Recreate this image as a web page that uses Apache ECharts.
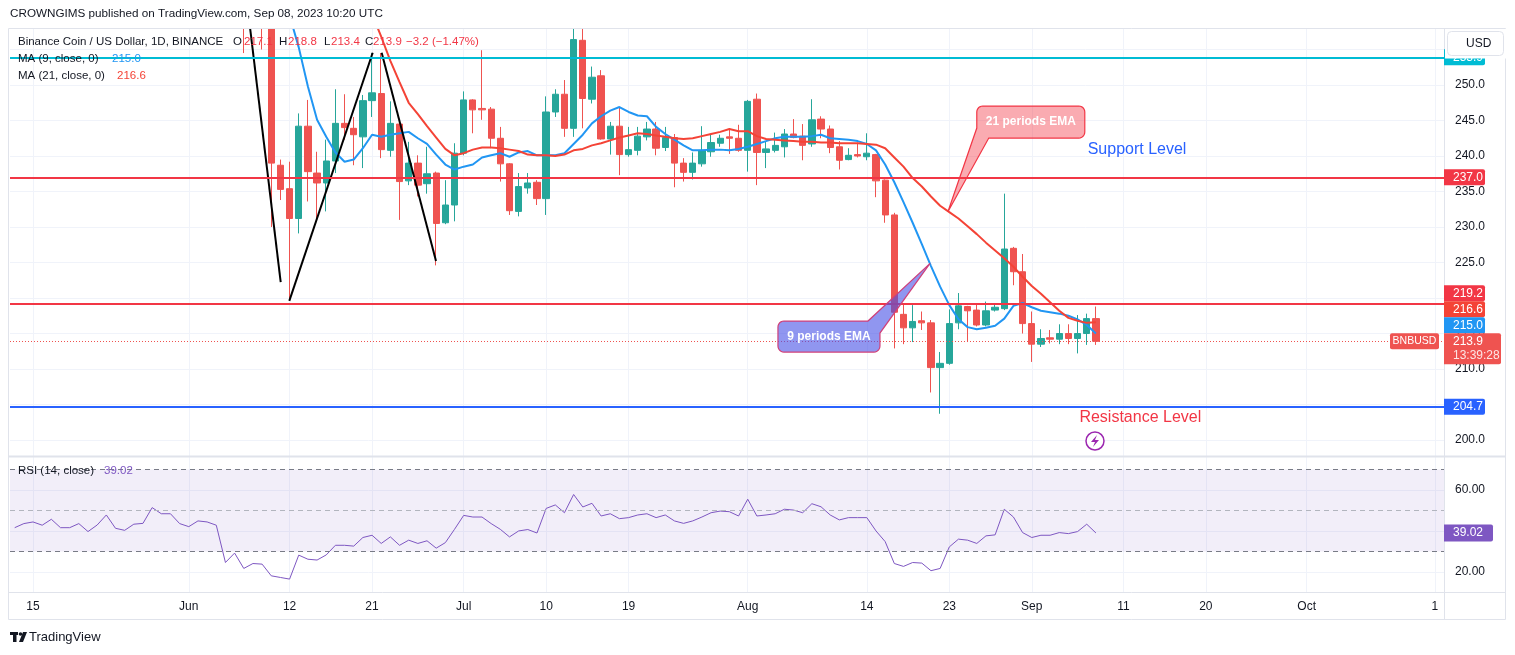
<!DOCTYPE html>
<html>
<head>
<meta charset="utf-8">
<title>BNBUSD 1D</title>
<script src="https://cdn.jsdelivr.net/npm/echarts@6.0.0/dist/echarts.min.js"></script>
<style>
  html, body { margin: 0; padding: 0; background: #ffffff; }
  #chart { width: 1515px; height: 655px; }
</style>
</head>
<body>
<div id="chart"></div>
<script>
// x axis counts days from 13 May 2023
var DAY0 = Date.UTC(2023, 4, 13);
function dayOf(md) {
  var p = md.split('-');
  return Math.round((Date.UTC(2023, +p[0] - 1, +p[1]) - DAY0) / 864e5);
}

// daily candles: date, open, close, low, high
var candles = [
  ['06-07', 263.5, 259.6, 254.5, 265.0], ['06-08', 259.6, 260.4, 258.6, 263.0],
  ['06-09', 260.4, 260.0, 255.0, 262.5], ['06-10', 260.0, 239.0, 230.0, 261.0],
  ['06-11', 238.7, 235.3, 233.8, 239.5], ['06-12', 235.4, 231.2, 219.8, 239.2],
  ['06-13', 231.2, 244.2, 229.1, 246.0], ['06-14', 244.2, 237.8, 233.6, 247.9],
  ['06-15', 237.6, 236.2, 231.0, 240.6], ['06-16', 236.2, 239.3, 232.2, 242.3],
  ['06-17', 239.3, 244.6, 237.6, 249.4], ['06-18', 244.6, 244.0, 242.3, 248.7],
  ['06-19', 243.9, 243.0, 238.7, 245.5], ['06-20', 242.7, 247.8, 238.3, 248.6],
  ['06-21', 247.8, 248.9, 245.5, 254.5], ['06-22', 248.8, 240.9, 239.7, 254.5],
  ['06-23', 240.8, 244.6, 239.9, 247.7], ['06-24', 244.5, 236.4, 231.0, 245.1],
  ['06-25', 236.5, 239.0, 235.9, 242.0], ['06-26', 239.0, 235.9, 234.3, 240.1],
  ['06-27', 236.1, 237.5, 234.7, 241.3], ['06-28', 237.6, 230.5, 224.6, 237.8],
  ['06-29', 230.6, 233.1, 230.4, 236.6], ['06-30', 233.1, 240.4, 230.8, 241.8],
  ['07-01', 240.4, 247.9, 240.1, 249.1], ['07-02', 247.9, 246.5, 243.2, 248.0],
  ['07-03', 246.7, 246.5, 245.1, 254.9], ['07-04', 246.6, 242.5, 241.1, 246.9],
  ['07-05', 242.5, 238.9, 236.4, 244.1], ['07-06', 238.9, 232.3, 231.7, 239.0],
  ['07-07', 232.2, 235.7, 231.5, 237.6], ['07-08', 235.5, 236.2, 234.7, 237.6],
  ['07-09', 236.3, 234.0, 233.1, 236.6], ['07-10', 234.0, 246.2, 231.7, 248.4],
  ['07-11', 246.2, 248.7, 245.5, 249.4], ['07-12', 248.7, 243.9, 242.7, 250.7],
  ['07-13', 243.9, 256.4, 242.7, 258.0], ['07-14', 256.3, 248.1, 243.9, 258.3],
  ['07-15', 248.0, 251.1, 247.4, 252.6], ['07-16', 251.3, 242.4, 242.3, 252.1],
  ['07-17', 242.4, 244.2, 240.2, 244.8], ['07-18', 244.2, 240.2, 237.3, 246.9],
  ['07-19', 240.2, 240.9, 239.9, 244.1], ['07-20', 240.8, 242.8, 240.1, 244.1],
  ['07-21', 242.7, 243.8, 242.2, 244.8], ['07-22', 243.8, 241.1, 240.1, 244.8],
  ['07-23', 241.2, 242.6, 240.7, 244.1], ['07-24', 242.6, 239.0, 235.6, 243.1],
  ['07-25', 239.0, 237.7, 236.4, 239.7], ['07-26', 237.7, 239.0, 236.7, 240.5],
  ['07-27', 238.9, 240.8, 238.5, 244.2], ['07-28', 240.6, 241.9, 239.9, 243.1],
  ['07-29', 241.8, 242.5, 241.3, 243.0], ['07-30', 242.7, 242.5, 240.3, 243.9],
  ['07-31', 242.5, 240.8, 240.6, 244.4], ['08-01', 240.8, 247.7, 237.8, 247.9],
  ['08-02', 248.0, 240.5, 235.9, 248.8], ['08-03', 240.5, 241.0, 238.3, 242.0],
  ['08-04', 240.8, 241.5, 240.5, 243.3], ['08-05', 241.3, 243.1, 239.8, 243.8],
  ['08-06', 243.1, 242.6, 242.5, 245.2], ['08-07', 242.8, 241.5, 239.4, 244.5],
  ['08-08', 241.7, 245.1, 241.3, 248.0], ['08-09', 245.2, 243.8, 242.5, 245.6],
  ['08-10', 243.8, 241.2, 240.4, 244.3], ['08-11', 241.3, 239.4, 238.1, 242.1],
  ['08-12', 239.5, 240.1, 239.4, 241.1], ['08-13', 240.2, 240.0, 239.8, 241.9],
  ['08-14', 239.9, 240.4, 239.4, 243.2], ['08-15', 240.2, 236.5, 234.2, 240.3],
  ['08-16', 236.6, 231.7, 230.6, 236.7], ['08-17', 231.7, 218.0, 212.9, 232.0],
  ['08-18', 217.7, 215.8, 213.5, 219.2], ['08-19', 215.8, 216.7, 213.8, 219.0],
  ['08-20', 216.8, 216.5, 215.5, 218.1], ['08-21', 216.5, 210.2, 206.7, 216.9],
  ['08-22', 210.2, 210.8, 203.7, 212.4], ['08-23', 210.8, 216.4, 210.6, 218.4],
  ['08-24', 216.5, 218.9, 215.6, 220.7], ['08-25', 218.8, 218.2, 213.8, 218.9],
  ['08-26', 218.3, 216.2, 216.0, 219.2], ['08-27', 216.2, 218.2, 216.0, 219.5],
  ['08-28', 218.3, 218.7, 218.1, 219.3], ['08-29', 218.5, 226.9, 218.3, 234.7],
  ['08-30', 227.0, 223.7, 221.8, 227.2], ['08-31', 223.7, 216.4, 215.0, 226.2],
  ['09-01', 216.4, 213.5, 211.0, 218.1], ['09-02', 213.5, 214.3, 213.1, 215.6],
  ['09-03', 214.4, 214.2, 213.6, 215.5], ['09-04', 214.2, 215.0, 213.5, 216.3],
  ['09-05', 215.0, 214.3, 213.5, 216.3], ['09-06', 214.3, 215.0, 212.2, 217.6],
  ['09-07', 215.0, 217.1, 213.4, 217.8], ['09-08', 217.1, 213.9, 213.4, 218.8]
];

// MA (9) - blue, one value per day from ma9Start
var ma9Start = '06-11';
var ma9 = [
  264.5, 259.8, 255.3, 249.8, 245.1, 242.7, 240.5, 239.2, 239.5, 241.1,
  243.0, 242.7, 243.0, 243.2, 243.4, 242.5, 241.7, 240.2, 238.8, 238.1,
  238.5, 238.8, 239.8, 240.1, 240.4, 239.9, 240.5, 240.7, 240.1, 240.1,
  240.1, 240.4, 241.7, 243.0, 244.6, 245.6, 246.4, 246.9, 246.2, 245.7,
  245.6, 244.1, 243.1, 242.3, 241.5, 240.8, 240.8, 240.9, 240.9, 240.8,
  241.0, 241.3, 241.7, 242.1, 242.5, 242.7, 242.7, 242.7, 242.8, 243.0,
  242.5, 242.4, 242.3, 242.1, 241.7, 240.8, 238.8, 236.3, 233.5, 230.6,
  227.6, 224.5, 221.6, 219.0, 217.0, 215.9, 215.6, 215.8, 216.1, 217.1,
  218.9, 219.3, 218.7, 218.2, 218.0, 217.8, 217.5, 217.0, 216.2, 215.0
];

// MA (21) - red, one value per day from ma21Start
var ma21Start = '06-20';
var ma21 = [
  263.5, 260.0, 256.8, 253.4, 250.4, 247.5, 245.9, 244.2, 242.6, 241.0,
  240.1, 240.4, 240.9, 241.2, 241.2, 241.1, 240.9, 240.7, 240.2, 240.1,
  240.1, 240.0, 240.2, 240.8, 241.0, 241.5, 241.8, 242.2, 242.6, 242.9,
  243.2, 243.1, 242.9, 242.7, 242.5, 242.4, 242.5, 242.8, 243.1, 243.4,
  243.8, 243.5, 243.5, 242.8, 242.4, 242.3, 242.2, 242.1, 242.0, 242.0,
  241.9, 241.9, 241.8, 241.8, 241.8, 241.7, 241.6, 241.1, 239.8, 238.5,
  236.9, 235.7, 234.3, 233.0, 232.1, 231.2, 230.1, 229.0, 227.8, 226.7,
  225.6, 224.4, 223.0, 221.7, 220.6, 219.4, 218.2, 217.2, 216.8, 216.5,
  216.6
];

// RSI (14), one value per day from rsiStart
var rsiStart = '05-13';
var rsi = [
  41.6, 43.6, 44.4, 42.8, 45.7, 41.6, 41.6, 43.6, 39.7, 42.9, 47.8, 41.3,
  40.3, 43.3, 43.7, 51.4, 48.4, 48.4, 43.6, 42.1, 44.9, 44.4, 42.8,
  24.6, 29.2, 21.7, 24.1, 23.8, 18.1, 17.3, 16.5, 28.2, 26.2, 25.8, 28.3,
  33.0, 33.0, 32.6, 36.8, 37.9, 33.9,
  37.1, 33.0, 35.5, 33.9, 35.2, 31.6, 34.3, 40.8, 47.6, 46.8, 46.8, 43.6,
  40.8, 37.1, 40.0, 40.7, 39.0, 51.0, 52.7, 48.9,
  57.8, 51.7, 53.5, 47.3, 48.4, 46.0, 46.5, 47.8, 48.4, 46.5, 47.8, 44.9,
  43.7, 44.9, 46.8, 48.9, 49.7, 49.4, 47.3,
  55.5, 47.3, 47.8, 48.4, 50.6, 50.2, 48.9, 53.3, 51.8, 47.8, 45.4, 46.5,
  46.5, 46.5, 40.0, 34.8, 24.1, 22.7, 24.6, 24.3,
  20.6, 21.7, 32.2, 36.0, 35.5, 33.9, 37.6, 38.1, 50.6, 46.8, 39.2, 36.8,
  37.9, 37.9, 39.2, 38.7, 39.7, 43.3, 39.02
];

// horizontal drawings
var levels = [
  { value: 253.9, color: '#00BCD4' },
  { value: 237.0, color: '#F23645' },
  { value: 219.2, color: '#F23645' },
  { value: 204.7, color: '#2962FF' }
];

// hand-drawn black pattern lines, [day, price] end points
var zigzag = [
  [[25.3, 262.2], [29.03, 222.25]],
  [[29.97, 219.6], [39.07, 254.55]],
  [[40.05, 254.55], [45.98, 225.2]]
];

// axis ticks
var priceTicks = [200, 205, 210, 215, 220, 225, 230, 235, 240, 245, 250, 255];
var priceLabels = [200, 205, 210, 215, 220, 225, 230, 235, 240, 245, 250];
var rsiTicks = [20, 40, 60];
var rsiLabels = [20, 60];
var rsiBands = [30, 50, 70];
var timeTickDates = ['05-15', '06-01', '06-12', '06-21', '07-01', '07-10', '07-19',
  '08-01', '08-14', '08-23', '09-01', '09-11', '09-20', '10-01', '10-15'];
var timeTickText = ['15', 'Jun', '12', '21', 'Jul', '10', '19',
  'Aug', '14', '23', 'Sep', '11', '20', 'Oct', '1'];

var FONT = '"Liberation Sans", Arial, sans-serif';
var X_MIN = -0.513, X_MAX = 155.99;
var timeTicks = timeTickDates.map(dayOf);

function daily(start, arr) {
  var d0 = dayOf(start);
  return arr.map(function (v, i) { return [d0 + i, v]; });
}

var last = candles[candles.length - 1];
var prev = candles[candles.length - 2];
var lastClose = last[2];

var gridLine = { show: true, lineStyle: { color: '#F0F3FA', width: 1 } };

var option = {
  animation: false,
  backgroundColor: '#ffffff',
  textStyle: { fontFamily: FONT },
  grid: [
    { left: 10, right: 71, top: 28, height: 428 },
    { left: 10, right: 71, top: 457, height: 135 }
  ],
  xAxis: [
    {
      gridIndex: 0, type: 'value', min: X_MIN, max: X_MAX,
      axisLine: { show: false }, axisTick: { show: false, customValues: timeTicks },
      axisLabel: { show: false }, splitLine: gridLine
    },
    {
      gridIndex: 1, type: 'value', min: X_MIN, max: X_MAX,
      axisLine: { show: false }, axisTick: { show: false, customValues: timeTicks },
      axisLabel: {
        customValues: timeTicks, color: '#131722', fontSize: 12, margin: 9,
        formatter: function (v) {
          var i = timeTicks.indexOf(v);
          return i >= 0 ? timeTickText[i] : '';
        }
      },
      splitLine: gridLine
    }
  ],
  yAxis: [
    {
      gridIndex: 0, type: 'value', position: 'right', min: 197.75, max: 258.03,
      axisLine: { show: false }, axisTick: { show: false, customValues: priceTicks },
      axisLabel: {
        customValues: priceLabels, color: '#131722', fontSize: 12, margin: 11,
        formatter: function (v) { return v.toFixed(1); }
      },
      splitLine: gridLine
    },
    {
      gridIndex: 1, type: 'value', position: 'right', min: 10.2, max: 76.1,
      axisLine: { show: false }, axisTick: { show: false, customValues: rsiTicks },
      axisLabel: {
        customValues: rsiLabels, color: '#131722', fontSize: 12, margin: 11,
        formatter: function (v) { return v.toFixed(2); }
      },
      splitLine: gridLine
    }
  ],
  series: [
    {
      type: 'candlestick', xAxisIndex: 0, yAxisIndex: 0, clip: true,
      data: candles.map(function (c) { return [dayOf(c[0]), c[1], c[2], c[3], c[4]]; }),
      encode: { x: 0, y: [1, 2, 3, 4] },
      barWidth: 6.8,
      itemStyle: {
        color: '#26A69A', color0: '#EF5350',
        borderColor: '#26A69A', borderColor0: '#EF5350', borderWidth: 1
      },
      markLine: {
        silent: true, symbol: ['none', 'none'], label: { show: false },
        data: levels.map(function (l) {
          return { yAxis: l.value, lineStyle: { color: l.color, width: 2, type: 'solid' } };
        }).concat([
          { yAxis: lastClose, lineStyle: { color: '#EF5350', width: 1, type: [1, 2] } }
        ])
      }
    },
    {
      type: 'line', name: 'MA9', xAxisIndex: 0, yAxisIndex: 0, data: daily(ma9Start, ma9),
      symbol: 'none', clip: true, lineStyle: { color: '#2196F3', width: 2 }, z: 3
    },
    {
      type: 'line', name: 'MA21', xAxisIndex: 0, yAxisIndex: 0, data: daily(ma21Start, ma21),
      symbol: 'none', clip: true, lineStyle: { color: '#F44336', width: 2 }, z: 3
    }
  ].concat(zigzag.map(function (seg) {
    return {
      type: 'line', xAxisIndex: 0, yAxisIndex: 0, data: seg, symbol: 'none', clip: true,
      lineStyle: { color: '#000000', width: 2 }, z: 4
    };
  })).concat([
    {
      type: 'line', name: 'RSI', xAxisIndex: 1, yAxisIndex: 1, data: daily(rsiStart, rsi),
      symbol: 'none', clip: true, lineStyle: { color: '#7E57C2', width: 1 },
      markArea: {
        silent: true, itemStyle: { color: 'rgba(126,87,194,0.1)' },
        data: [[{ yAxis: rsiBands[0] }, { yAxis: rsiBands[2] }]]
      },
      markLine: {
        silent: true, symbol: ['none', 'none'], label: { show: false },
        data: rsiBands.map(function (v, i) {
          return { yAxis: v, lineStyle: { color: i === 1 ? '#B2B5BE' : '#787B86', width: 1, type: [5, 4] } };
        })
      }
    }
  ])
};

var chart = echarts.init(document.getElementById('chart'));
chart.setOption(option);

// ---------- overlay: frame, legends, price tags, annotations ----------
function toPx(d, p) { return chart.convertToPixel({ xAxisIndex: 0, yAxisIndex: 0 }, [d, p]); }
function toRsiPx(d, v) { return chart.convertToPixel({ xAxisIndex: 1, yAxisIndex: 1 }, [d, v]); }
function txt(x, y, s, color, size, extra) {
  var st = {
    x: x, y: y, text: s, fill: color, font: (size || 12) + 'px ' + FONT,
    align: 'left', textAlign: 'left', verticalAlign: 'middle', textVerticalAlign: 'middle'
  };
  if (extra) for (var k in extra) st[k] = extra[k];
  return { type: 'text', style: st };
}
function fmt(v, n) { return (v < 0 ? '\u2212' : '') + Math.abs(v).toFixed(n); }

var axisX = toPx(X_MAX, 200)[0];
var paneTop = toPx(0, 258.03)[1];
var paneSplit = toPx(0, 197.75)[1] + 0.5;
var timeTop = toRsiPx(0, 10.2)[1];
var els = [];

// candles that run past the top of the pane are masked here
els.push({ type: 'rect', shape: { x: 0, y: 0, width: 1515, height: paneTop }, style: { fill: '#ffffff' } });

// frame and separators
els.push({ type: 'rect', shape: { x: 8.5, y: 28.5, width: 1497, height: 591 }, style: { fill: 'none', stroke: '#E0E3EB', lineWidth: 1 } });
els.push({ type: 'line', shape: { x1: 8, y1: paneSplit, x2: 1506, y2: paneSplit }, style: { stroke: '#E0E3EB', lineWidth: 2 } });
els.push({ type: 'line', shape: { x1: 8, y1: timeTop + 0.5, x2: 1506, y2: timeTop + 0.5 }, style: { stroke: '#E0E3EB', lineWidth: 1 } });
els.push({ type: 'line', shape: { x1: axisX + 0.5, y1: 28, x2: axisX + 0.5, y2: 620 }, style: { stroke: '#E0E3EB', lineWidth: 1 } });

// header and legends
var LEG = 11.5;
els.push(txt(10, 14, 'CROWNGIMS published on TradingView.com, Sep 08, 2023 10:20 UTC', '#131722', 11.7));
els.push(txt(18, 42, 'Binance Coin / US Dollar, 1D, BINANCE', '#131722', LEG));
var ohlcRed = '#F23645';
els.push(txt(233, 42, 'O', '#131722', LEG)); els.push(txt(244, 42, last[1].toFixed(1), ohlcRed, LEG));
els.push(txt(279, 42, 'H', '#131722', LEG)); els.push(txt(288, 42, last[4].toFixed(1), ohlcRed, LEG));
els.push(txt(324, 42, 'L', '#131722', LEG)); els.push(txt(331, 42, last[3].toFixed(1), ohlcRed, LEG));
els.push(txt(365, 42, 'C', '#131722', LEG)); els.push(txt(373, 42, last[2].toFixed(1), ohlcRed, LEG));
var chg = last[2] - prev[2];
els.push(txt(406, 42, fmt(chg, 1) + ' (' + fmt(chg / prev[2] * 100, 2) + '%)', ohlcRed, LEG));
els.push(txt(18, 59, 'MA (9, close, 0)', '#131722', LEG));
els.push(txt(112, 59, ma9[ma9.length - 1].toFixed(1), '#2196F3', LEG));
els.push(txt(18, 76, 'MA (21, close, 0)', '#131722', LEG));
els.push(txt(117, 76, ma21[ma21.length - 1].toFixed(1), '#F44336', LEG));
els.push(txt(18, 471, 'RSI (14, close)', '#131722', LEG));
els.push(txt(104, 471, rsi[rsi.length - 1].toFixed(2), '#7E57C2', LEG));

// callouts: rounded box with a pointer, built as one polygon
function arc(cx, cy, r, a0, a1) {
  var pts = [];
  for (var i = 0; i <= 6; i++) {
    var a = (a0 + (a1 - a0) * i / 6) * Math.PI / 180;
    pts.push([cx + r * Math.cos(a), cy + r * Math.sin(a)]);
  }
  return pts;
}
function callout(box, w, h, tip, fill, stroke, label, corner) {
  var b = toPx(box[0], box[1]), t = toPx(tip[0], tip[1]);
  var x = b[0], y = b[1], r = 6, pts;
  if (corner === 'bottomLeft') {
    pts = arc(x + r, y + r, r, 180, 270)
      .concat(arc(x + w - r, y + r, r, 270, 360))
      .concat(arc(x + w - r, y + h - r, r, 0, 90))
      .concat([[x + 12, y + h], t, [x, y + h - 10]]);
  } else {
    pts = arc(x + r, y + r, r, 180, 270)
      .concat([[x + w - 12, y], t, [x + w, y + 12]])
      .concat(arc(x + w - r, y + h - r, r, 0, 90))
      .concat(arc(x + r, y + h - r, r, 90, 180));
  }
  els.push({ type: 'polygon', shape: { points: pts }, style: { fill: fill, stroke: stroke, lineWidth: 1.2 } });
  els.push(txt(x + w / 2, y + h / 2, label, '#ffffff', 12, { align: 'center', textAlign: 'center', font: 'bold 12px ' + FONT }));
}
callout([105.0, 247.04], 108, 32, [101.85, 232.15], 'rgba(242,54,69,0.42)', '#F23645', '21 periods EMA', 'bottomLeft');
callout([83.3, 216.76], 102, 31, [99.9, 224.88], 'rgba(70,80,230,0.6)', '#D0407A', '9 periods EMA', 'topRight');

// level captions
var sp = toPx(117.1, 240.85), rp = toPx(116.2, 203.1);
els.push(txt(sp[0], sp[1], 'Support Level', '#2962FF', 16));
els.push(txt(rp[0], rp[1], 'Resistance Level', '#F23645', 16));

// lightning icon
var ic = toPx(117.9, 199.86);
els.push({ type: 'circle', shape: { cx: ic[0], cy: ic[1], r: 9 }, style: { fill: '#ffffff', stroke: '#9C27B0', lineWidth: 1.5 } });
els.push({ type: 'polygon', shape: { points: [[ic[0] + 2, ic[1] - 6], [ic[0] - 4, ic[1] + 1], [ic[0], ic[1] + 1], [ic[0] - 2, ic[1] + 6], [ic[0] + 4, ic[1] - 1], [ic[0], ic[1] - 1]] }, style: { fill: '#9C27B0' } });

// price tags on the axis, stacked so they do not overlap
var TAG_H = 16;
var tags = levels.map(function (l) { return { v: l.value, bg: l.color }; });
tags.push({ v: ma21[ma21.length - 1], bg: '#F44336' });
tags.push({ v: ma9[ma9.length - 1], bg: '#2196F3' });
var lastY = toPx(0, lastClose)[1];
var above = tags.filter(function (t) { return t.v > lastClose; }).sort(function (a, b) { return a.v - b.v; });
var edge = lastY - TAG_H / 2;
above.forEach(function (t) {
  var y = toPx(0, t.v)[1];
  if (y + TAG_H / 2 > edge) y = edge - TAG_H / 2;
  t.y = y; edge = y - TAG_H / 2;
});
var below = tags.filter(function (t) { return t.v < lastClose; }).sort(function (a, b) { return b.v - a.v; });
edge = lastY + TAG_H / 2 + 15;
below.forEach(function (t) {
  var y = toPx(0, t.v)[1];
  if (y - TAG_H / 2 < edge) y = edge + TAG_H / 2;
  t.y = y; edge = y + TAG_H / 2;
});
function tag(x, y, w, h, bg, s) {
  els.push({ type: 'rect', shape: { x: x, y: y - TAG_H / 2, width: w, height: h, r: [0, 2, 2, 0] }, style: { fill: bg } });
  els.push(txt(x + 9, y, s, '#ffffff', 12));
}
tags.forEach(function (t) { tag(axisX, t.y, 41, TAG_H, t.bg, t.v.toFixed(1)); });
tag(axisX, lastY, 57, 31, '#EF5350', lastClose.toFixed(1));
els.push(txt(axisX + 9, lastY + 14, '13:39:28', 'rgba(255,255,255,0.85)', 12));
els.push({ type: 'rect', shape: { x: axisX - 54, y: lastY - 8, width: 49, height: 16, r: 2 }, style: { fill: '#EF5350' } });
els.push(txt(axisX - 29.5, lastY, 'BNBUSD', '#ffffff', 10.5, { align: 'center', textAlign: 'center' }));

// RSI tag
var rv = rsi[rsi.length - 1];
var ry = toRsiPx(0, rv)[1];
els.push({ type: 'rect', shape: { x: axisX, y: ry - 8.5, width: 49, height: 17, r: [0, 2, 2, 0] }, style: { fill: '#7E57C2' } });
els.push(txt(axisX + 9, ry, rv.toFixed(2), '#ffffff', 12));

// currency button (covers top of the scale)
els.push({ type: 'rect', shape: { x: axisX + 1, y: 29, width: 61, height: 29.5 }, style: { fill: '#ffffff' } });
els.push({ type: 'rect', shape: { x: 1447.5, y: 31.5, width: 56, height: 24, r: 4 }, style: { fill: '#ffffff', stroke: '#E0E3EB', lineWidth: 1 } });
els.push(txt(1466, 43.5, 'USD', '#131722', 12));

// footer logo
els.push({ type: 'rect', shape: { x: 10, y: 632, width: 8, height: 3 }, style: { fill: '#131722' } });
els.push({ type: 'rect', shape: { x: 13, y: 632, width: 3.5, height: 10 }, style: { fill: '#131722' } });
els.push({ type: 'circle', shape: { cx: 20.5, cy: 634, r: 1.8 }, style: { fill: '#131722' } });
els.push({ type: 'polygon', shape: { points: [[19, 642], [23, 632], [27, 632], [23, 642]] }, style: { fill: '#131722' } });
els.push(txt(29, 637, 'TradingView', '#131722', 13));

els.forEach(function (e) { e.z = 100; e.silent = true; });
chart.setOption({ graphic: { elements: els } });
</script>
</body>
</html>
